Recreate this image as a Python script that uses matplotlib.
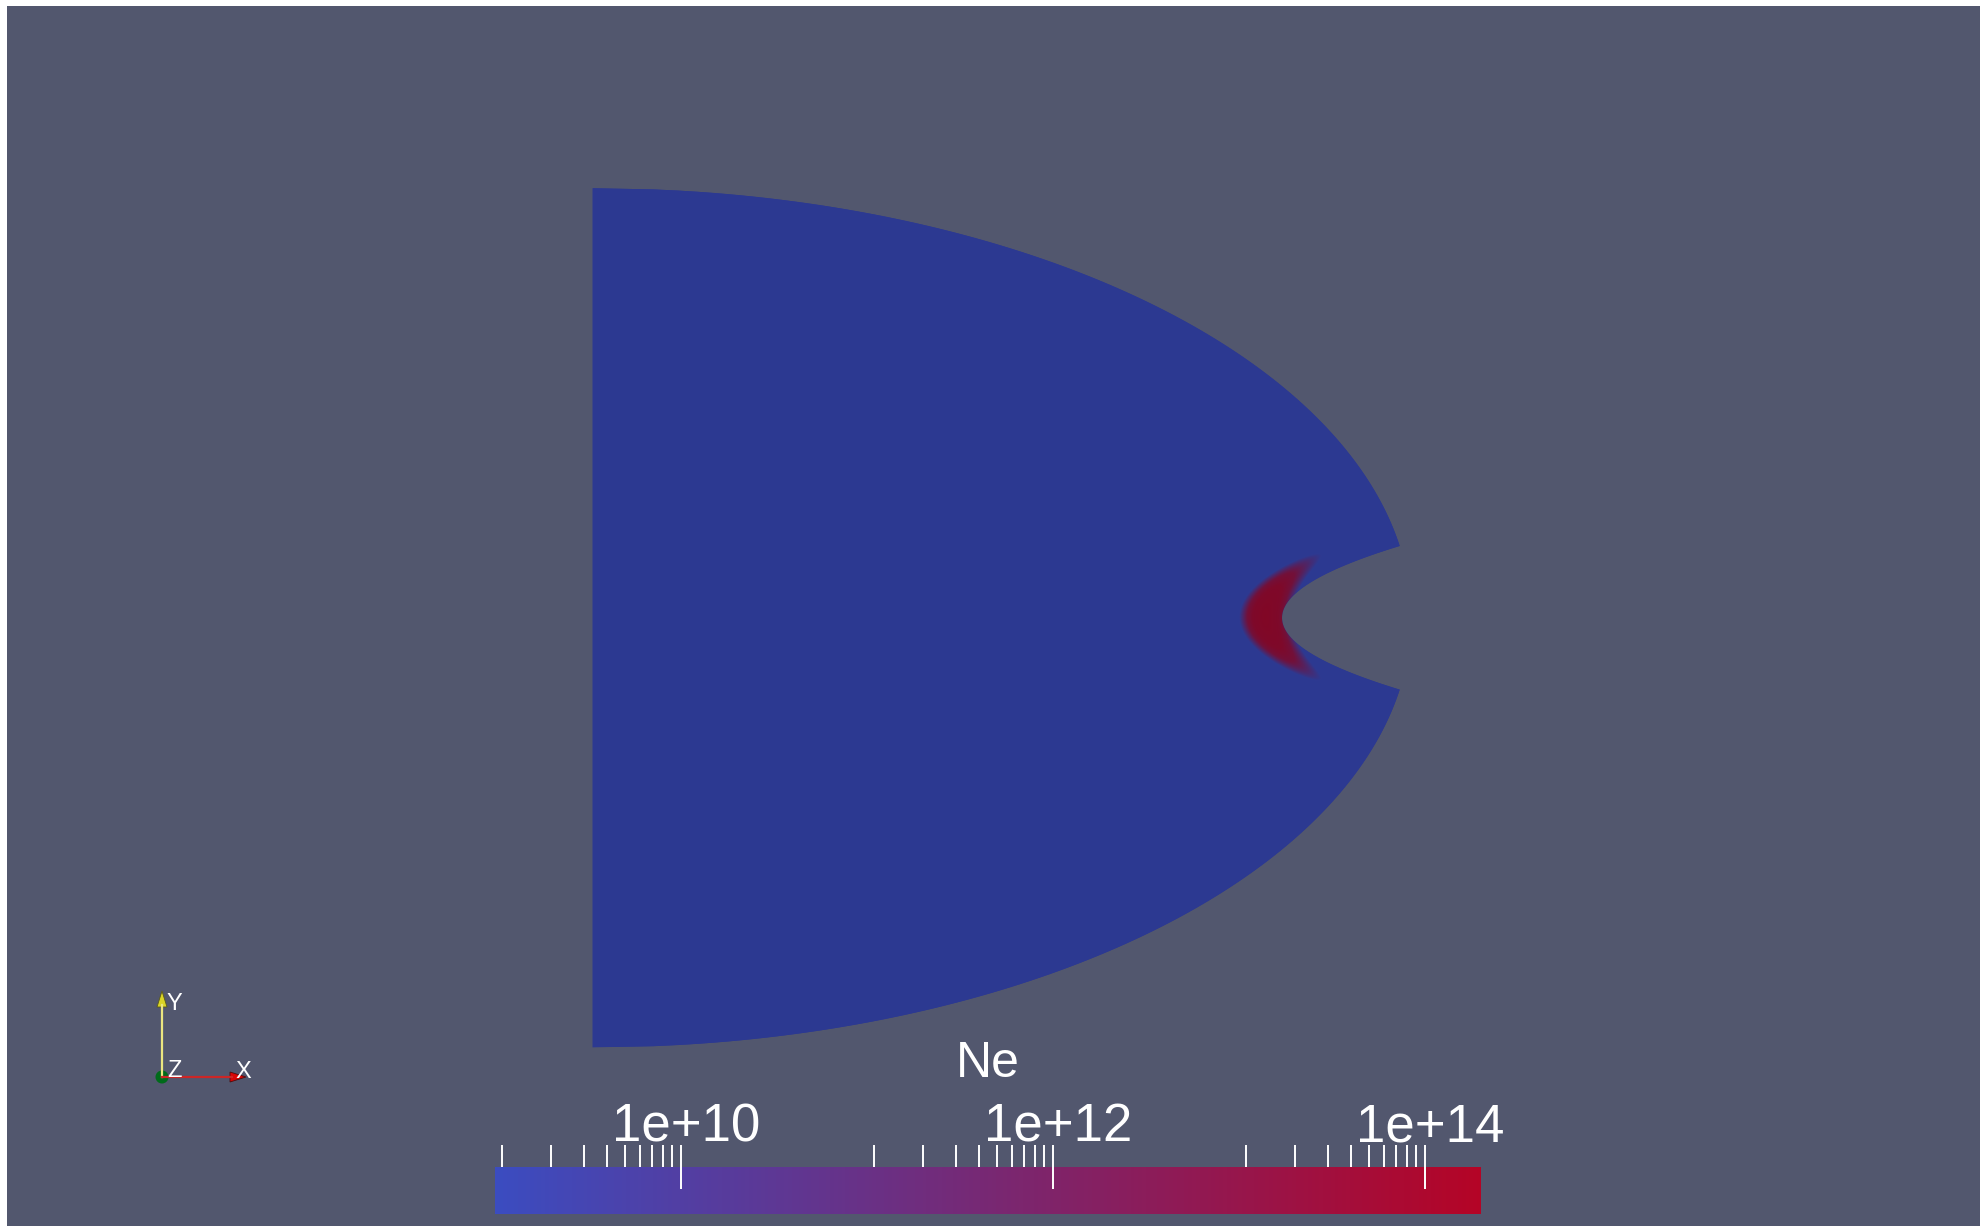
import matplotlib
matplotlib.use('Agg')
import matplotlib.pyplot as plt
import numpy as np
from matplotlib.colors import LinearSegmentedColormap, LogNorm
from matplotlib.cm import ScalarMappable
from matplotlib.patches import Polygon, Circle, Rectangle
from matplotlib.ticker import NullFormatter
from matplotlib import transforms

W, H = 1981, 1226

# body geometry (units: outer half-length = 1)
body_a = 1.0          # outer ellipse, x semi-axis
body_b = 0.5247       # outer ellipse, y semi-axis
notch_x0 = 0.8422     # apex of inner (parabolic) surface
notch_k = 18.67       # curvature of inner surface  x = x0 + k*y^2

# Ne hot layer near the notch
layer_x0 = 0.8214
layer_k = 10.73
layer_hx = 0.0262
layer_hy = 0.0635
layer_r = [0.0, 0.6, 0.85, 1.0, 1.22]
layer_logne = [13.9, 13.7, 13.0, 11.4, 9.0]

# colour bar
ne_min, ne_max = 1e9, 2e14
major_vals = [1e10, 1e12, 1e14]
major_labels = ['1e+10', '1e+12', '1e+14']
minor_mult = [1.09, 2, 3, 4, 5, 6, 7, 8, 9]
minor_decades = [1e9, 1e11, 1e13]
minor_vals = [m * d for d in minor_decades for m in minor_mult]

bg = (82/255, 87/255, 110/255)
c_lo = np.array([59, 76, 192]) / 255
c_hi = np.array([180, 4, 38]) / 255
shade = 0.76
cmap = LinearSegmentedColormap.from_list('ne', [c_lo, c_hi])
cmap_lit = LinearSegmentedColormap.from_list('ne_lit', [c_lo * shade, c_hi * shade])
norm = LogNorm(ne_min, ne_max)

plt.rcParams['font.family'] = ['Liberation Sans', 'DejaVu Sans']

fig = plt.figure(figsize=(W/100, H/100), dpi=100)
fig.patch.set_facecolor(bg)

# main view, 818.7 px per unit, body origin at (592.5, 617.8) px
px = 818.7
ox, oy = 592.5, 617.8
ax = fig.add_axes([0, 0, 1, 1])
ax.set_facecolor(bg)
ax.set_xlim(-ox/px, (W - ox)/px)
ax.set_ylim((oy - H)/px, oy/px)
ax.axis('off')

# outline of body
yy = np.linspace(0, body_b, 4000)
diff = body_a*np.sqrt(1 - (yy/body_b)**2) - (notch_x0 + notch_k*yy**2)
y_tip = yy[np.argmin(np.abs(diff))]
y1 = np.linspace(body_b, y_tip, 300)
y2 = np.linspace(y_tip, -y_tip, 300)
y3 = np.linspace(-y_tip, -body_b, 300)
xs = np.concatenate([body_a*np.sqrt(np.clip(1-(y1/body_b)**2, 0, 1)),
                     notch_x0 + notch_k*y2**2,
                     body_a*np.sqrt(np.clip(1-(y3/body_b)**2, 0, 1))])
ys = np.concatenate([y1, y2, y3])
verts = np.column_stack([np.r_[0, xs, 0], np.r_[body_b, ys, -body_b]])

body = Polygon(verts, closed=True, facecolor=cmap_lit(norm(ne_min)),
               edgecolor='none', antialiased=True, zorder=1)
ax.add_patch(body)

gx = np.linspace(0, body_a, 1200)
gy = np.linspace(-body_b, body_b, 1100)
X, Y = np.meshgrid(gx, gy)
r = np.sqrt(((X - (layer_x0 + layer_k*Y**2))/layer_hx)**2 + (Y/layer_hy)**2)
ne = 10**np.interp(r, layer_r, layer_logne)
im = ax.imshow(ne, extent=[0, body_a, -body_b, body_b], origin='lower',
               cmap=cmap_lit, norm=norm, interpolation='bilinear', aspect='auto', zorder=2)
im.set_clip_path(body)

# colour bar
cax = fig.add_axes([495/W, (H - 1214)/H, 986/W, 47/H])
cb = fig.colorbar(ScalarMappable(norm=norm, cmap=cmap), cax=cax, orientation='horizontal')
cb.outline.set_visible(False)
cb.set_ticks(major_vals, labels=['']*len(major_vals))
cb.set_ticks(minor_vals, minor=True)
cax.xaxis.set_minor_formatter(NullFormatter())
cax.xaxis.set_ticks_position('top')
cax.tick_params(which='major', direction='inout', length=31.7, width=1.4,
                color='white', top=True, bottom=False)
cax.tick_params(which='minor', direction='out', length=15.8, width=1.4,
                color='white', top=True, bottom=False, labeltop=False)
lab_tr = transforms.offset_copy(transforms.blended_transform_factory(cax.transData, cax.transAxes),
                                fig=fig, x=5, y=0, units='dots')
for v, s in zip(major_vals, major_labels):
    cax.text(v, (1214 - 1141)/47, s, transform=lab_tr, ha='center', va='baseline',
             color='white', fontsize=38)
fig.text(988/W, 1 - 1077/H, 'Ne', ha='center', va='baseline', color='white', fontsize=36)

# orientation axes
tri = fig.add_axes([130/W, 1 - 1100/H, 150/W, 140/H])
tri.set_xlim(130, 280)
tri.set_ylim(1100, 960)
tri.axis('off')
tri.plot([162, 162], [1077, 1005], color=(0.92, 0.9, 0.5), lw=1.6)
tri.add_patch(Polygon([(157, 1007), (167, 1007), (162, 991)], closed=True,
                      facecolor=(0.85, 0.83, 0.15), edgecolor=(0.35, 0.35, 0.1), lw=0.6))
tri.plot([162, 232], [1077, 1077], color=(0.8, 0.15, 0.15), lw=1.6)
tri.add_patch(Polygon([(230, 1072), (230, 1082), (246, 1077)], closed=True,
                      facecolor=(0.85, 0.02, 0.02), edgecolor=(0.3, 0.05, 0.05), lw=0.6))
tri.add_patch(Circle((162, 1077), 6.5, facecolor=(0.0, 0.42, 0.1), edgecolor='none'))
tri.text(174, 1010, 'Y', ha='center', va='baseline', color='white', fontsize=17)
tri.text(174, 1077, 'Z', ha='center', va='baseline', color='white', fontsize=17)
tri.text(243, 1078, 'X', ha='center', va='baseline', color='white', fontsize=17)

# white frame at top and left of the screenshot
fig.patches.append(Rectangle((0, 1 - 6/H), 1, 6/H, transform=fig.transFigure,
                             facecolor='white', edgecolor='none'))
fig.patches.append(Rectangle((0, 0), 7/W, 1, transform=fig.transFigure,
                             facecolor='white', edgecolor='none'))

fig.savefig('out.png', dpi=100, facecolor=bg)
